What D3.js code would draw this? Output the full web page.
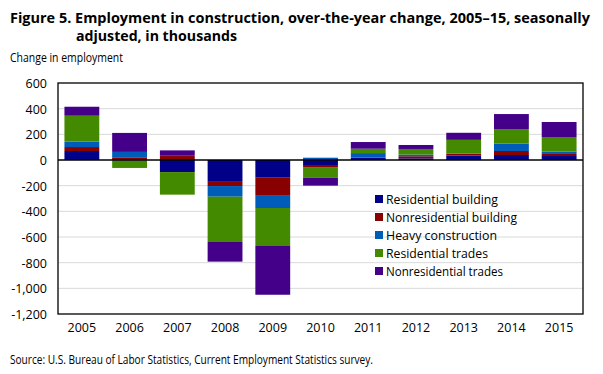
<!DOCTYPE html>
<html><head><meta charset="utf-8">
<script src="https://cdn.jsdelivr.net/npm/d3@7"></script>
<style>body{margin:0;background:#fff}svg{display:block}text{font-family:"Open Sans",sans-serif;fill:#000}</style>
</head><body><svg id="c" width="603" height="374"></svg>
<script>
const years = ["2005","2006","2007","2008","2009","2010","2011","2012","2013","2014","2015"];
const seriesNames = ["Residential building","Nonresidential building","Heavy construction","Residential trades","Nonresidential trades"];
const residentialBuilding    = [70, -4, -94, -164, -138, -39, 18, 13, 34, 39, 31];
const nonresidentialBuilding = [31, 21, 31, -39, -135, -16, 0, 16, 16, 31, 16];
const heavyConstruction      = [42, 42, 8, -83, -101, 18, 36, 13, 0, 57, 18];
const residentialTrades      = [202, -58, -176, -353, -296, -83, 34, 44, 107, 114, 114];
const nonresidentialTrades   = [70, 148, 36, -153, -380, -62, 52, 31, 55, 117, 117];
const yTicks = [600, 400, 200, 0, -200, -400, -600, -800, -1000, -1200];
const colors = ["#000088","#880000","#005cb9","#448a00","#440088"];

const svg = d3.select("#c");
const m = {l:58, r:583, t:83, b:314};
const x = d3.scaleBand().domain(years).range([m.l, m.r]).paddingInner(0.27).paddingOuter(0.135);
const y = d3.scaleLinear().domain([-1200, 600]).range([m.b, m.t]);

const allSeries = [residentialBuilding, nonresidentialBuilding, heavyConstruction, residentialTrades, nonresidentialTrades];
const rows = years.map((yr, i) => {
  const o = {year: yr};
  seriesNames.forEach((s, j) => o[s] = allSeries[j][i]);
  return o;
});
const stacked = d3.stack().keys(seriesNames).offset(d3.stackOffsetDiverging)(rows);

// gridlines
svg.append("g").selectAll("line").data(yTicks.filter(t => t !== 0 && t !== 600 && t !== -1200)).join("line")
  .attr("x1", m.l).attr("x2", m.r).attr("y1", d => y(d)).attr("y2", d => y(d))
  .attr("stroke", "#d9d9d9").attr("stroke-width", 1);

// bars
svg.append("g").selectAll("g").data(stacked).join("g")
  .attr("fill", (d, i) => colors[i])
  .selectAll("rect").data(d => d).join("rect")
  .attr("x", d => x(d.data.year))
  .attr("width", x.bandwidth())
  .attr("y", d => y(Math.max(d[0], d[1])))
  .attr("height", d => Math.abs(y(d[0]) - y(d[1])));

// frame
svg.append("rect").attr("x", m.l).attr("y", m.t).attr("width", m.r - m.l).attr("height", m.b - m.t)
  .attr("fill", "none").attr("stroke", "#000").attr("stroke-width", 1.3);
svg.append("line").attr("x1", m.l).attr("x2", m.r).attr("y1", y(0)).attr("y2", y(0))
  .attr("stroke", "#000").attr("stroke-width", 1.5);

// y axis
const yAxis = d3.axisLeft(y).tickValues(yTicks).tickSize(0).tickPadding(11)
  .tickFormat(d => d3.format(",")(d).replace("−", "-"));
const ya = svg.append("g").attr("transform", `translate(${m.l},0)`).call(yAxis);
ya.select(".domain").remove();
ya.selectAll("text").attr("font-size", 12.5).attr("font-family", "Open Sans").attr("dy", "0.35em");

// x axis
const xAxis = d3.axisBottom(x).tickSize(0).tickPadding(9);
const xa = svg.append("g").attr("transform", `translate(0,${m.b})`).call(xAxis);
xa.select(".domain").remove();
xa.selectAll("text").attr("font-size", 12.5).attr("font-family", "Open Sans");

// legend
const lg = svg.append("g").selectAll("g").data(seriesNames).join("g")
  .attr("transform", (d, i) => `translate(375,${200 + i * 18})`);
lg.append("rect").attr("x", 0).attr("y", -5).attr("width", 8).attr("height", 8).attr("fill", (d, i) => colors[i]);
lg.append("text").attr("x", 11).attr("y", 0).attr("dy", "0.35em").attr("font-size", 12.5)
  .attr("textLength", (d, i) => [112, 131, 111, 102, 117][i]).attr("lengthAdjust", "spacingAndGlyphs").text(d => d);

// titles
svg.append("text").attr("x", 10).attr("y", 23).attr("font-size", 14).attr("font-weight", "bold")
  .attr("textLength", 580).attr("lengthAdjust", "spacingAndGlyphs")
  .text("Figure 5. Employment in construction, over-the-year change, 2005–15, seasonally");
svg.append("text").attr("x", 76).attr("y", 40.5).attr("font-size", 14).attr("font-weight", "bold")
  .attr("textLength", 161).attr("lengthAdjust", "spacingAndGlyphs")
  .text("adjusted, in thousands");
svg.append("text").attr("x", 10).attr("y", 62).attr("font-size", 12.5)
  .attr("textLength", 113).attr("lengthAdjust", "spacingAndGlyphs").text("Change in employment");
svg.append("text").attr("x", 10).attr("y", 364).attr("font-size", 12)
  .attr("textLength", 363).attr("lengthAdjust", "spacingAndGlyphs")
  .text("Source: U.S. Bureau of Labor Statistics, Current Employment Statistics survey.");
</script></body></html>
